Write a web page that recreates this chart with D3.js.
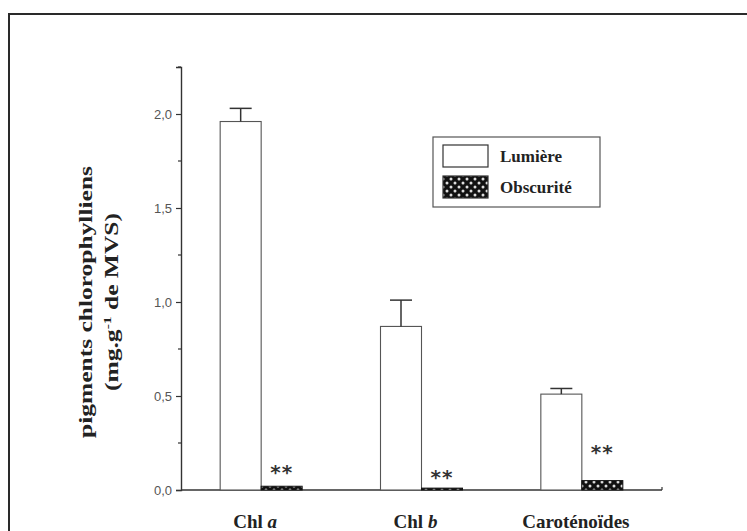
<!DOCTYPE html>
<html>
<head>
<meta charset="utf-8">
<script src="https://cdn.jsdelivr.net/npm/d3@7"></script>
<style>
  body { margin: 0; background: #fff; }
  svg { display: block; }
</style>
</head>
<body>
<div id="chart"></div>
<script>
// data
const categories = ["Chl a", "Chl b", "Caroténoïdes"];
const lumiere = [1.96, 0.87, 0.51];
const lumiereErr = [0.07, 0.14, 0.03];
const obscurite = [0.02, 0.01, 0.05];
const starLevel = [0.12, 0.095, 0.23]; // where the ** sit, in data units
const yTicks = [0, 0.5, 1.0, 1.5, 2.0];
const yMinorTicks = [0.25, 0.75, 1.25, 1.75, 2.25];
const legendLabels = ["Lumière", "Obscurité"];

const W = 747, H = 531;
const margin = { top: 67, right: 85, bottom: 41, left: 181 };

const svg = d3.select("#chart").append("svg")
  .attr("width", W)
  .attr("height", H);

// dotted dark fill for the "Obscurité" bars
const defs = svg.append("defs");
const pat = defs.append("pattern")
  .attr("id", "dots")
  .attr("patternUnits", "userSpaceOnUse")
  .attr("width", 8)
  .attr("height", 8);
pat.append("rect").attr("width", 8).attr("height", 8).attr("fill", "#111");
pat.append("circle").attr("cx", 2).attr("cy", 2).attr("r", 1.5).attr("fill", "#ddd");
pat.append("circle").attr("cx", 6).attr("cy", 6).attr("r", 1.5).attr("fill", "#ddd");

// outer frame of the scanned figure (runs off the right and bottom)
svg.append("rect")
  .attr("x", 9).attr("y", 14)
  .attr("width", 800).attr("height", 600)
  .attr("fill", "none")
  .attr("stroke", "#2a2a2a")
  .attr("stroke-width", 2);

const x = d3.scaleBand()
  .domain(categories)
  .range([margin.left, W - margin.right])
  .padding(0);

const y = d3.scaleLinear()
  .domain([0, 2.25])
  .range([H - margin.bottom, margin.top]);

const barW = 41;

// y axis
const yAxis = svg.append("g")
  .attr("transform", `translate(${margin.left},0)`)
  .call(d3.axisLeft(y)
    .tickValues(yTicks)
    .tickSize(5)
    .tickFormat(d => d3.format(".1f")(d).replace(".", ",")));
yAxis.select(".domain").attr("stroke", "#333").attr("stroke-width", 1.4);
yAxis.selectAll(".tick line").attr("stroke", "#333").attr("stroke-width", 1.2);
yAxis.selectAll(".tick text")
  .attr("x", -9)
  .attr("fill", "#555")
  .style("font-family", "'Liberation Sans', Arial, sans-serif")
  .style("font-size", "13px");

svg.append("g")
  .attr("transform", `translate(${margin.left},0)`)
  .selectAll("line")
  .data(yMinorTicks)
  .join("line")
  .attr("x1", -3).attr("x2", 0)
  .attr("y1", d => y(d)).attr("y2", d => y(d))
  .attr("stroke", "#333")
  .attr("stroke-width", 1.2);

// x axis baseline
svg.append("line")
  .attr("x1", margin.left).attr("x2", W - margin.right)
  .attr("y1", y(0)).attr("y2", y(0))
  .attr("stroke", "#333")
  .attr("stroke-width", 1.4);
svg.append("line")
  .attr("x1", W - margin.right).attr("x2", W - margin.right)
  .attr("y1", y(0)).attr("y2", y(0) - 3)
  .attr("stroke", "#333")
  .attr("stroke-width", 1.2);

// Lumière bars
svg.selectAll(".bar-l")
  .data(categories)
  .join("rect")
  .attr("class", "bar-l")
  .attr("x", d => x(d) + x.bandwidth() / 2 - barW)
  .attr("y", (d, i) => y(lumiere[i]))
  .attr("width", barW)
  .attr("height", (d, i) => y(0) - y(lumiere[i]))
  .attr("fill", "#fff")
  .attr("stroke", "#555")
  .attr("stroke-width", 1.1);

// error bars (upper only)
const err = svg.append("g").attr("stroke", "#333").attr("stroke-width", 1.5);
categories.forEach((c, i) => {
  const cx = x(c) + x.bandwidth() / 2 - barW / 2;
  err.append("line")
    .attr("x1", cx).attr("x2", cx)
    .attr("y1", y(lumiere[i])).attr("y2", y(lumiere[i] + lumiereErr[i]));
  err.append("line")
    .attr("x1", cx - 11).attr("x2", cx + 11)
    .attr("y1", y(lumiere[i] + lumiereErr[i])).attr("y2", y(lumiere[i] + lumiereErr[i]));
});

// Obscurité bars
svg.selectAll(".bar-o")
  .data(categories)
  .join("rect")
  .attr("class", "bar-o")
  .attr("x", d => x(d) + x.bandwidth() / 2)
  .attr("y", (d, i) => y(obscurite[i]))
  .attr("width", barW)
  .attr("height", (d, i) => y(0) - y(obscurite[i]))
  .attr("fill", "url(#dots)")
  .attr("stroke", "#111")
  .attr("stroke-width", 1);

// significance stars
svg.selectAll(".stars")
  .data(categories)
  .join("text")
  .attr("class", "stars")
  .attr("x", d => x(d) + x.bandwidth() / 2 + barW / 2)
  .attr("y", (d, i) => y(starLevel[i]) + 12)
  .attr("text-anchor", "middle")
  .attr("fill", "#333")
  .style("font-family", "'DejaVu Sans', sans-serif")
  .style("font-size", "20px")
  .style("font-weight", "bold")
  .style("letter-spacing", "1px")
  .text("**");

// category labels (sitting on the bottom edge, as in the scan)
const xl = svg.selectAll(".xlab")
  .data(categories)
  .join("text")
  .attr("class", "xlab")
  .attr("x", d => x(d) + x.bandwidth() / 2 - 6)
  .attr("y", H - 3)
  .attr("text-anchor", "middle")
  .attr("fill", "#222")
  .style("font-family", "'Liberation Serif', 'Times New Roman', serif")
  .style("font-size", "19px")
  .style("font-weight", "bold");
xl.each(function (d) {
  const t = d3.select(this);
  if (d.startsWith("Chl")) {
    const parts = d.split(" ");
    t.append("tspan").text(parts[0] + " ");
    t.append("tspan").style("font-style", "italic").text(parts[1]);
  } else {
    t.text(d);
  }
});

// y axis title
const yt = svg.append("g")
  .attr("transform", `translate(0,${y(1.0)}) rotate(-90)`)
  .attr("fill", "#222")
  .style("font-family", "'Liberation Serif', 'Times New Roman', serif")
  .style("font-weight", "bold")
  .attr("text-anchor", "middle");
yt.append("text")
  .attr("x", 0).attr("y", 92)
  .attr("textLength", 272)
  .attr("lengthAdjust", "spacingAndGlyphs")
  .style("font-size", "19px")
  .text("pigments chlorophylliens");
const yt2 = yt.append("text")
  .attr("x", 0).attr("y", 118)
  .attr("textLength", 178)
  .attr("lengthAdjust", "spacingAndGlyphs")
  .style("font-size", "18px");
yt2.append("tspan").text("(mg.g");
yt2.append("tspan").attr("dy", -7).style("font-size", "11px").text("-1");
yt2.append("tspan").attr("dy", 7).text(" de MVS)");

// legend
const lg = svg.append("g").attr("transform", "translate(433,137)");
lg.append("rect")
  .attr("width", 167).attr("height", 70)
  .attr("fill", "#fff")
  .attr("stroke", "#555")
  .attr("stroke-width", 1.2);
const fills = ["#fff", "url(#dots)"];
legendLabels.forEach((lab, i) => {
  lg.append("rect")
    .attr("x", 10).attr("y", 8 + i * 31)
    .attr("width", 45).attr("height", 22)
    .attr("fill", fills[i])
    .attr("stroke", "#333")
    .attr("stroke-width", 1.2);
  lg.append("text")
    .attr("x", 67).attr("y", 25 + i * 31)
    .attr("fill", "#222")
    .style("font-family", "'Liberation Serif', 'Times New Roman', serif")
    .style("font-size", "17px")
    .style("font-weight", "bold")
    .text(lab);
});
</script>
</body>
</html>
